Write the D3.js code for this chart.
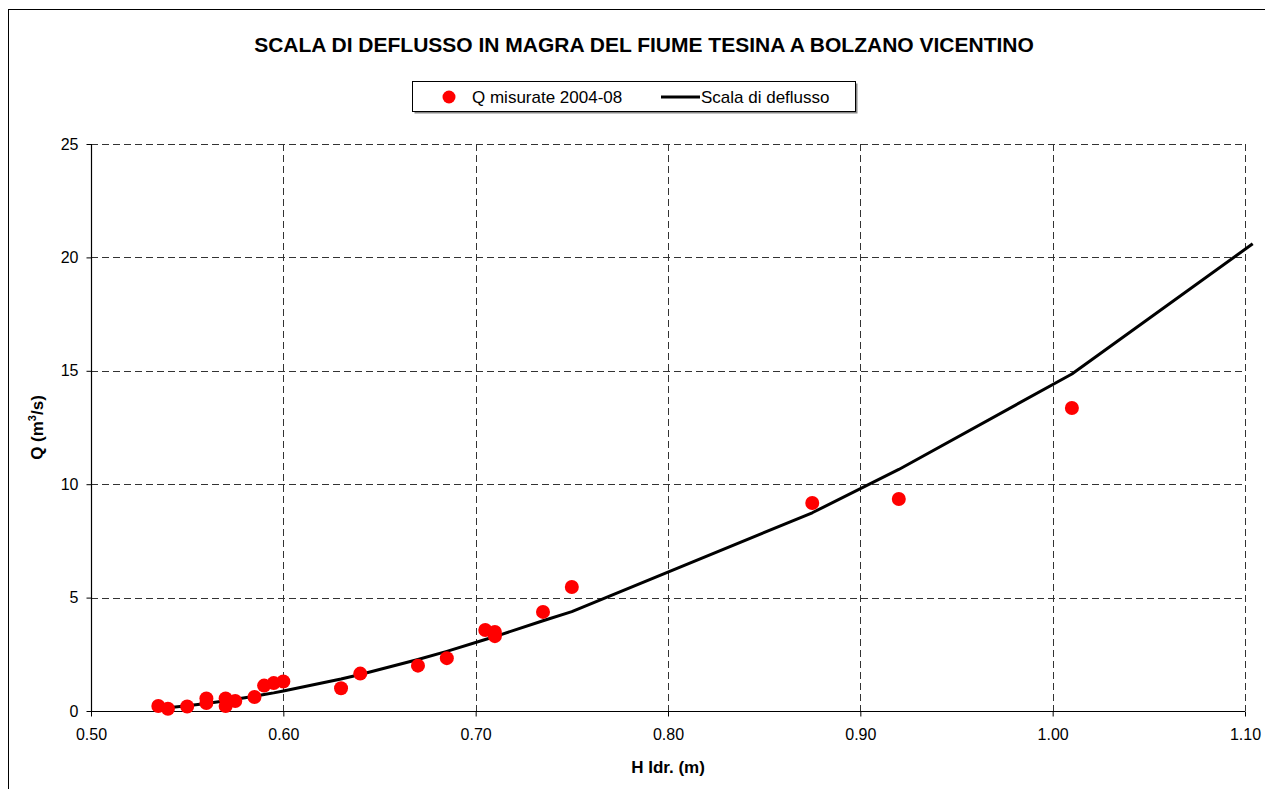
<!DOCTYPE html>
<html><head><meta charset="utf-8">
<script src="https://cdn.jsdelivr.net/npm/d3@7"></script>
<style>
html,body{margin:0;padding:0;background:#fff;}
svg{display:block;font-family:Arial,"Liberation Sans",sans-serif;}
</style></head>
<body>
<svg id="chart" width="1265" height="789"></svg>
<script>
// Measured discharges (H idrometrico in m, Q in m3/s)
const measH = [0.535,0.540,0.550,0.560,0.560,0.570,0.570,0.575,0.585,0.590,0.595,0.600,0.630,0.640,0.670,0.685,0.705,0.710,0.710,0.735,0.750,0.875,0.920,1.010];
const measQ = [0.22,0.10,0.20,0.55,0.35,0.55,0.22,0.44,0.62,1.12,1.23,1.30,1.00,1.65,2.00,2.33,3.57,3.48,3.30,4.37,5.47,9.17,9.35,13.36];
// Rating curve (scala di deflusso) vertices
const curveH = [0.535,0.540,0.550,0.560,0.570,0.575,0.585,0.590,0.595,0.600,0.630,0.640,0.670,0.685,0.705,0.710,0.735,0.750,0.875,0.920,1.010,1.104];
const curveQ = [0.11,0.14,0.23,0.33,0.45,0.52,0.65,0.73,0.80,0.88,1.41,1.61,2.27,2.63,3.15,3.28,3.98,4.38,8.74,10.65,14.86,20.60];
const xTicks = [0.50,0.60,0.70,0.80,0.90,1.00,1.10];
const yTicks = [0,5,10,15,20,25];
const titleText = "SCALA DI DEFLUSSO IN MAGRA DEL FIUME TESINA A BOLZANO VICENTINO";
const legendLabels = ["Q misurate 2004-08","Scala di deflusso"];

const svg = d3.select("#chart");
const L = 91, R = 1245, T = 144, B = 711;
const x = d3.scaleLinear().domain([0.5,1.1]).range([L,R]);
const y = d3.scaleLinear().domain([0,25]).range([B,T]);

// outer chart border
svg.append("rect").attr("x",8.5).attr("y",9.5).attr("width",1300).attr("height",900)
  .attr("fill","#fff").attr("stroke","#000").attr("stroke-width",1);

// title
svg.append("text").attr("x",644).attr("y",52).attr("text-anchor","middle")
  .attr("font-weight","bold").attr("font-size","21px").text(titleText);

// grid
const grid = svg.append("g");
grid.selectAll(".hg").data(yTicks.filter(d=>d>0)).join("line")
  .attr("x1",L).attr("x2",R).attr("y1",d=>Math.round(y(d))+0.5).attr("y2",d=>Math.round(y(d))+0.5)
  .attr("stroke","#333").attr("stroke-width",1).attr("stroke-dasharray","7,4");
grid.selectAll(".vg").data(xTicks.filter(d=>d>0.5)).join("line")
  .attr("y1",T).attr("y2",B).attr("x1",d=>Math.round(x(d))+0.5).attr("x2",d=>Math.round(x(d))+0.5)
  .attr("stroke","#333").attr("stroke-width",1).attr("stroke-dasharray","7,4");

// axes
const xAxis = d3.axisBottom(x).tickValues(xTicks).tickFormat(d3.format(".2f")).tickSize(5).tickPadding(12);
const yAxis = d3.axisLeft(y).tickValues(yTicks).tickFormat(d3.format("d")).tickSize(5).tickPadding(8);
const gx = svg.append("g").attr("transform",`translate(0,${B+0.5})`).call(xAxis);
const gy = svg.append("g").attr("transform",`translate(${L+0.5},0)`).call(yAxis);
[gx,gy].forEach(g=>{
  g.select(".domain").attr("stroke","#000").attr("stroke-width",1.2);
  g.selectAll(".tick line").attr("stroke","#000");
  g.selectAll("text").attr("font-family","Arial, 'Liberation Sans', sans-serif").attr("font-size","16px").attr("fill","#000");
});
gx.select(".domain").attr("d",`M${L},0H${R}`);
gy.select(".domain").attr("d",`M0,${B}V${T}`);

// axis titles
svg.append("text").attr("x",668).attr("y",773).attr("text-anchor","middle")
  .attr("font-weight","bold").attr("font-size","17px").text("H Idr. (m)");
const yt = svg.append("text").attr("transform",`translate(43,${(T+B)/2}) rotate(-90)`)
  .attr("text-anchor","middle").attr("font-weight","bold").attr("font-size","17px");
yt.append("tspan").text("Q (m");
yt.append("tspan").attr("font-size","11px").attr("dy","-7").text("3");
yt.append("tspan").attr("dy","7").text("/s)");

// rating curve
const curveData = curveH.map((h,i)=>({h,q:curveQ[i]}));
svg.append("path").datum(curveData)
  .attr("fill","none").attr("stroke","#000").attr("stroke-width",3).attr("stroke-linejoin","round")
  .attr("d",d3.line().x(d=>x(d.h)).y(d=>y(d.q)));

// measured points
const measData = measH.map((h,i)=>({h,q:measQ[i]}));
svg.append("g").selectAll("circle").data(measData).join("circle")
  .attr("cx",d=>x(d.h)).attr("cy",d=>y(d.q)).attr("r",7).attr("fill","#ff0000");

// legend
const lg = svg.append("g");
lg.append("rect").attr("x",414.5).attr("y",83.5).attr("width",443).attr("height",30).attr("fill","#888");
lg.append("rect").attr("x",412.5).attr("y",81.5).attr("width",443).attr("height",30).attr("fill","#fff").attr("stroke","#000");
lg.append("circle").attr("cx",449).attr("cy",97).attr("r",6.5).attr("fill","#ff0000");
lg.append("text").attr("x",472).attr("y",103).attr("font-size","17px").text(legendLabels[0]);
lg.append("line").attr("x1",661).attr("x2",700).attr("y1",97).attr("y2",97).attr("stroke","#000").attr("stroke-width",3);
lg.append("text").attr("x",701).attr("y",103).attr("font-size","17px").text(legendLabels[1]);
</script>
</body></html>
